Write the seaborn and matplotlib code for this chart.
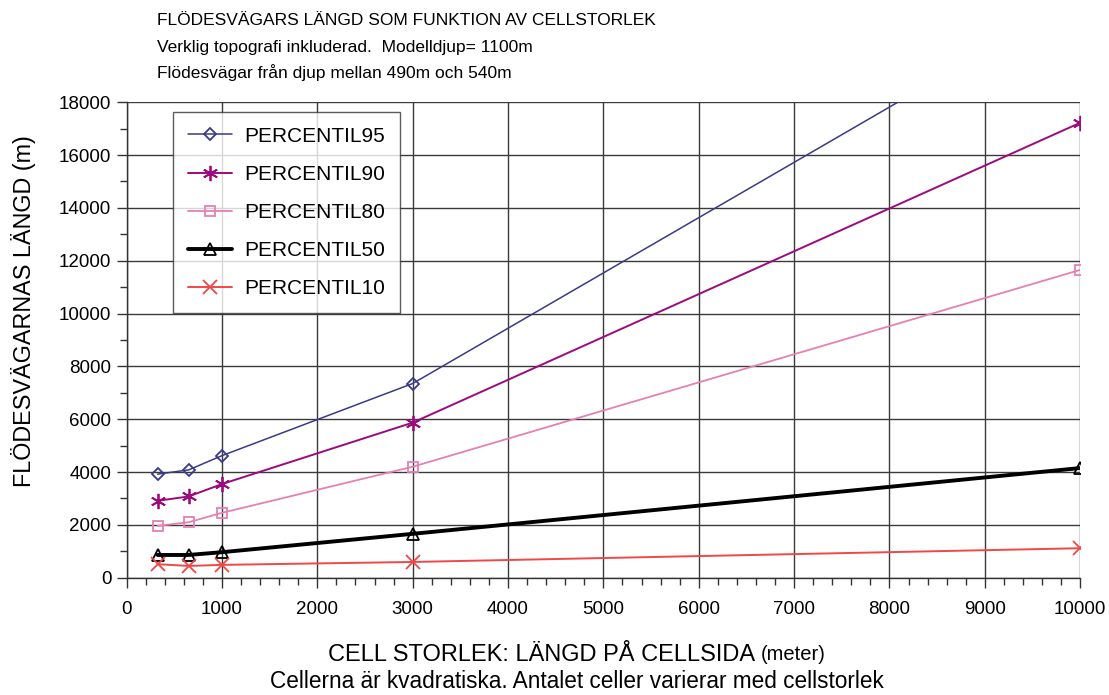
import matplotlib
matplotlib.use("Agg")
import matplotlib.pyplot as plt
import seaborn as sns
import pandas as pd
from matplotlib.ticker import MultipleLocator

cell_size = [325, 650, 1000, 3000, 10000]
p95 = [3920, 4080, 4620, 7350, 22000]
p90 = [2910, 3075, 3545, 5870, 17220]
p80 = [1960, 2100, 2455, 4200, 11650]
p50 = [860, 860, 965, 1660, 4150]
p10 = [510, 445, 485, 595, 1115]
series_names = ["PERCENTIL95", "PERCENTIL90", "PERCENTIL80", "PERCENTIL50", "PERCENTIL10"]

sns.set_style("white")
plt.rcParams['font.family'] = ['Liberation Sans', 'DejaVu Sans']
plt.rcParams['text.color'] = 'black'
plt.rcParams['axes.labelcolor'] = 'black'
plt.rcParams['xtick.color'] = 'black'
plt.rcParams['ytick.color'] = 'black'

fig = plt.figure(figsize=(11.09, 6.95), dpi=100)
ax = fig.add_axes([0.1142, 0.1688, 0.974 - 0.1142, 0.853 - 0.1688])

styles = [
    dict(color="#3a3a85", marker="D", ms=6, lw=1.1),
    dict(color="#9c0a7e", marker=(6, 2, 0), ms=11, lw=1.4),
    dict(color="#e680b4", marker="s", ms=7, lw=1.3),
    dict(color="#000000", marker="^", ms=8, lw=2.8),
    dict(color="#f04848", marker="x", ms=10, lw=1.4),
]
data = [p95, p90, p80, p50, p10]
for name, vals, st in zip(series_names, data, styles):
    df = pd.DataFrame({"x": cell_size, "y": vals})
    filled = st["marker"] in [(6, 2, 0), "x"]
    sns.lineplot(data=df, x="x", y="y", ax=ax, color=st["color"], lw=st["lw"],
                 marker=st["marker"], markersize=st["ms"],
                 markerfacecolor=("none" if not filled else st["color"]),
                 markeredgecolor=st["color"], markeredgewidth=1.3,
                 label=name, clip_on=True)

ax.set_xlim(0, 10000)
ax.set_ylim(0, 18000)
ax.xaxis.set_major_locator(MultipleLocator(1000))
ax.xaxis.set_minor_locator(MultipleLocator(200))
ax.yaxis.set_major_locator(MultipleLocator(2000))
ax.yaxis.set_minor_locator(MultipleLocator(1000))
ax.grid(True, which="major", color="#3a3a3a", lw=1.0)
ax.tick_params(which="major", direction="out", length=7, width=1, labelsize=13.5, pad=4,
               bottom=True, left=True, color="#333333", labelcolor="black")
ax.tick_params(axis="x", which="major", pad=10)
ax.tick_params(which="minor", direction="out", length=5, width=1, bottom=True, left=True,
               color="#333333")
for s in ["top", "right"]:
    ax.spines[s].set_visible(False)
for s in ["left", "bottom"]:
    ax.spines[s].set_color("#333333")
    ax.spines[s].set_linewidth(1.0)

ax.set_xlabel("")
ax.set_ylabel("FLÖDESVÄGARNAS LÄNGD (m)", fontsize=16.8, color="black")
ax.yaxis.set_label_coords(-0.095, 0.561)

fig.text(0.1415, 0.970, "FLÖDESVÄGARS LÄNGD SOM FUNKTION AV CELLSTORLEK", fontsize=12.5, va="center")
fig.text(0.1415, 0.932, "Verklig topografi inkluderad.  Modelldjup= 1100m", fontsize=12.5, va="center")
fig.text(0.1415, 0.895, "Flödesvägar från djup mellan 490m och 540m", fontsize=12.5, va="center")

fig.text(270 / 1109, 1 - 682 / 695, "Cellerna är kvadratiska. Antalet celler varierar med cellstorlek",
         fontsize=16.3, ha="left", va="center")
# x label with smaller "(meter)"
main = fig.text(328 / 1109, 1 - 655 / 695, "CELL STORLEK: LÄNGD PÅ CELLSIDA ", fontsize=17,
                ha="left", va="center")
fig.canvas.draw()
bb = main.get_window_extent()
x_end = bb.x1 / fig.bbox.width
fig.text(x_end, 1 - 655 / 695, "(meter)", fontsize=14.5, ha="left", va="center")

leg = ax.legend(loc="upper left", bbox_to_anchor=(0.049, 0.979), frameon=True, fancybox=False,
                edgecolor="#333333", fontsize=15, handlelength=2.1, labelspacing=0.92,
                borderpad=0.7, handletextpad=0.6, borderaxespad=0)
leg.get_frame().set_linewidth(1.0)
for t in leg.get_texts():
    t.set_color("black")

fig.savefig("out.png", dpi=100)
